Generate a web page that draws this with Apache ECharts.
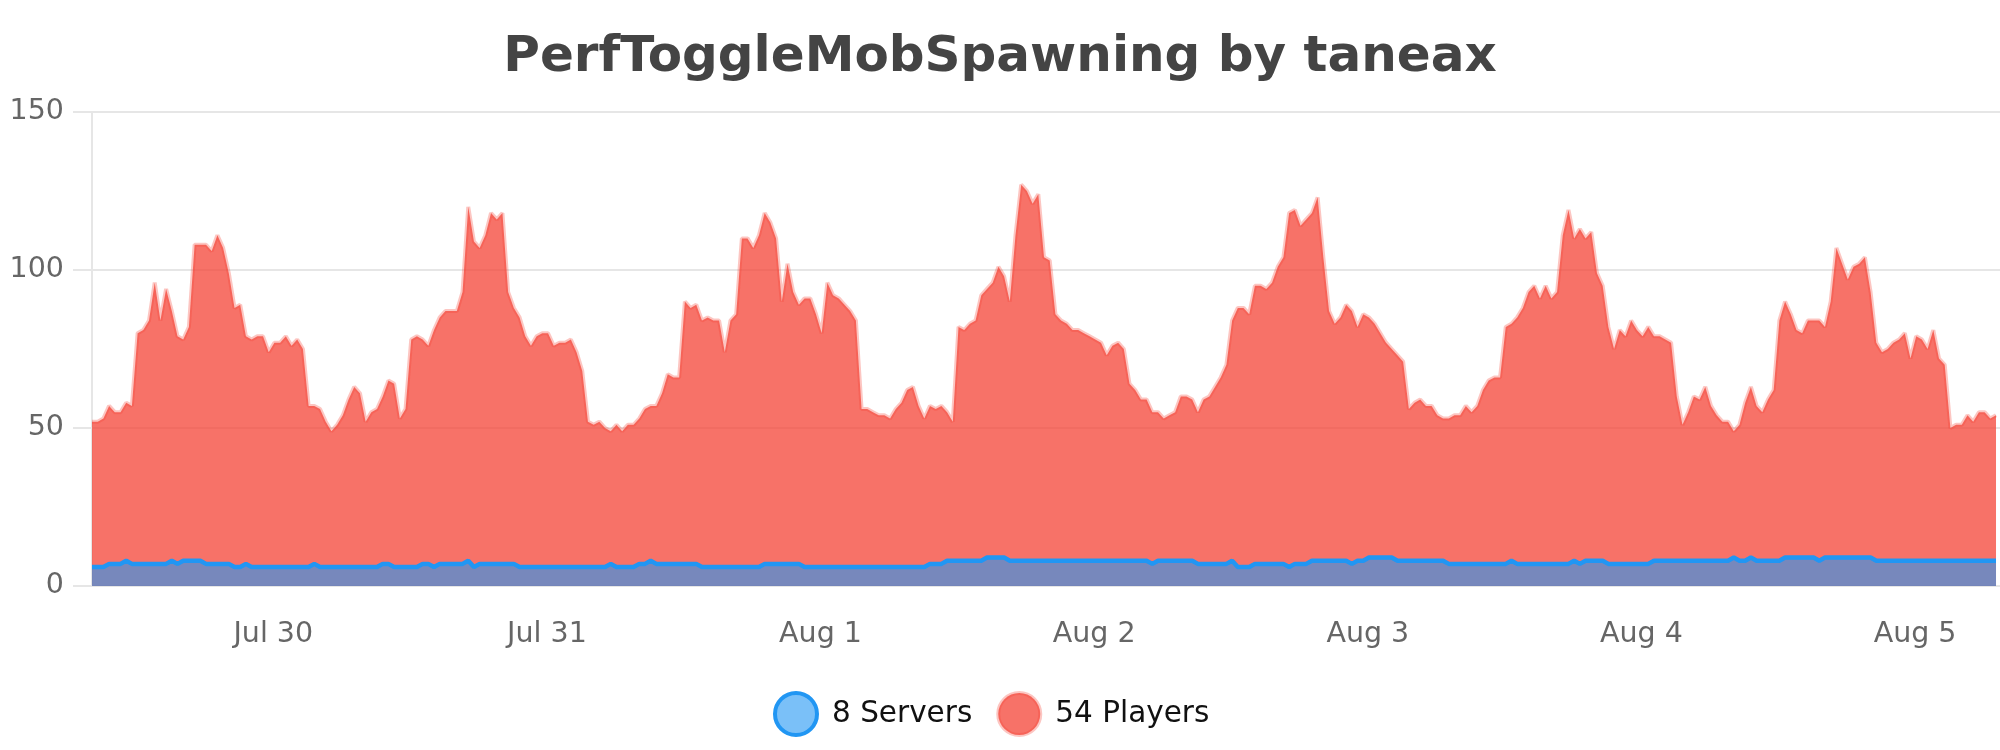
<!DOCTYPE html>
<html>
<head>
    <meta charset="utf-8">
    <title>PerfToggleMobSpawning by taneax</title>
    <script src="https://cdn.jsdelivr.net/npm/echarts@6/dist/echarts.min.js"></script>
    <style>
        html, body { margin: 0; padding: 0; background: #fff; }
    </style>
</head>
<body>
    <div id="main" style="width: 2000px;height:750px;"></div>
    <script type="text/javascript">
        // half-hour samples, first one at Jul 29 08:06
        var startTime = new Date(2021, 6, 29, 8, 6).getTime();
        var stepMs = 30 * 60 * 1000;

        var players = [
            52,52,53,57,55,55,58,57,80,81,
            84,96,84,94,87,79,78,82,108,108,
            108,106,111,107,99,88,89,79,78,79,
            79,74,77,77,79,76,78,75,57,57,
            56,52,49,51,54,59,63,61,52,55,
            56,60,65,64,53,56,78,79,78,76,
            81,85,87,87,87,93,120,109,107,111,
            118,116,118,93,88,85,79,76,79,80,
            80,76,77,77,78,74,68,52,51,52,
            50,49,51,49,51,51,53,56,57,57,
            61,67,66,66,90,88,89,84,85,84,
            84,74,84,86,110,110,107,111,118,115,
            110,90,102,93,89,91,91,86,80,96,
            92,91,89,87,84,56,56,55,54,54,
            53,56,58,62,63,57,53,57,56,57,
            55,52,82,81,83,84,92,94,96,101,
            98,90,111,127,125,121,124,104,103,86,
            84,83,81,81,80,79,78,77,73,76,
            77,75,64,62,59,59,55,55,53,54,
            55,60,60,59,55,59,60,63,66,70,
            84,88,88,86,95,95,94,96,101,104,
            118,119,114,116,118,123,104,87,83,85,
            89,87,82,86,85,83,80,77,75,73,
            71,56,58,59,57,57,54,53,53,54,
            54,57,55,57,62,65,66,66,82,83,
            85,88,93,95,91,95,91,93,111,119,
            110,113,110,112,99,95,82,75,81,79,
            84,81,79,82,79,79,78,77,60,51,
            55,60,59,63,57,54,52,52,49,51,
            58,63,57,55,59,62,84,90,86,81,
            80,84,84,84,82,90,107,102,97,101,
            102,104,93,77,74,75,77,78,80,72,
            79,78,75,81,72,70,50,51,51,54,
            52,55,55,53,54
        ];

        var servers = [
            6,6,6,7,7,7,8,7,7,7,
            7,7,7,7,8,7,8,8,8,8,
            7,7,7,7,7,6,6,7,6,6,
            6,6,6,6,6,6,6,6,6,7,
            6,6,6,6,6,6,6,6,6,6,
            6,7,7,6,6,6,6,6,7,7,
            6,7,7,7,7,7,8,6,7,7,
            7,7,7,7,7,6,6,6,6,6,
            6,6,6,6,6,6,6,6,6,6,
            6,7,6,6,6,6,7,7,8,7,
            7,7,7,7,7,7,7,6,6,6,
            6,6,6,6,6,6,6,6,7,7,
            7,7,7,7,7,6,6,6,6,6,
            6,6,6,6,6,6,6,6,6,6,
            6,6,6,6,6,6,6,7,7,7,
            8,8,8,8,8,8,8,9,9,9,
            9,8,8,8,8,8,8,8,8,8,
            8,8,8,8,8,8,8,8,8,8,
            8,8,8,8,8,8,7,8,8,8,
            8,8,8,8,7,7,7,7,7,7,
            8,6,6,6,7,7,7,7,7,7,
            6,7,7,7,8,8,8,8,8,8,
            8,7,8,8,9,9,9,9,9,8,
            8,8,8,8,8,8,8,8,7,7,
            7,7,7,7,7,7,7,7,7,8,
            7,7,7,7,7,7,7,7,7,7,
            8,7,8,8,8,8,7,7,7,7,
            7,7,7,7,8,8,8,8,8,8,
            8,8,8,8,8,8,8,8,9,8,
            8,9,8,8,8,8,8,9,9,9,
            9,9,9,8,9,9,9,9,9,9,
            9,9,9,8,8,8,8,8,8,8,
            8,8,8,8,8,8,8,8,8,8,
            8,8,8,8,8
        ];

        var dayTicks = [[2021,6,30],[2021,6,31],[2021,7,1],[2021,7,2],[2021,7,3],[2021,7,4],[2021,7,5]];
        var monthNames = ['Jan','Feb','Mar','Apr','May','Jun','Jul','Aug','Sep','Oct','Nov','Dec'];
        var legendNames = ['8 Servers', '54 Players'];

        var playerData = [], serverData = [];
        for (var i = 0; i < players.length; i++) {
            playerData.push([startTime + i * stepMs, players[i]]);
            serverData.push([startTime + i * stepMs, servers[i]]);
        }
        var tickValues = dayTicks.map(function (d) { return new Date(d[0], d[1], d[2]).getTime(); });

        var font = 'DejaVu Sans';
        var gridColor = '#e6e6e6';

        var myChart = echarts.init(document.getElementById('main'));
        var option = {
            animation: false,
            title: {
                text: 'PerfToggleMobSpawning by taneax',
                left: 'center',
                top: 28,
                textStyle: { fontFamily: font, fontSize: 50, fontWeight: 'bold', color: '#444' }
            },
            legend: {
                left: 768,
                top: 686,
                itemWidth: 62,
                itemHeight: 42,
                itemGap: 24,
                symbolKeepAspect: true,
                icon: 'circle',
                textStyle: { fontFamily: font, fontSize: 29.5, color: '#111' },
                data: [
                    { name: legendNames[0], itemStyle: { color: 'rgba(33,150,243,0.6)', borderColor: '#2196f3', borderWidth: 4 } },
                    { name: legendNames[1], itemStyle: { color: 'rgba(244,67,54,0.75)', borderColor: 'rgba(244,67,54,0.3)', borderWidth: 4 } }
                ]
            },
            grid: { left: 92, right: 0, top: 112, bottom: 164, containLabel: false },
            xAxis: {
                type: 'value',
                min: startTime,
                max: startTime + 334.7 * stepMs,
                axisLine: { show: false },
                axisTick: { show: false },
                splitLine: { show: false },
                axisLabel: {
                    customValues: tickValues,
                    fontFamily: font,
                    fontSize: 28.5,
                    color: '#666',
                    margin: 34,
                    formatter: function (v) {
                        var d = new Date(v);
                        return monthNames[d.getMonth()] + ' ' + d.getDate();
                    }
                }
            },
            yAxis: {
                type: 'value',
                min: 0,
                max: 150,
                interval: 50,
                axisLine: { show: true, lineStyle: { color: gridColor, width: 2 } },
                axisTick: { show: true, length: 19, lineStyle: { color: gridColor, width: 2 } },
                splitLine: { lineStyle: { color: gridColor, width: 2 } },
                axisLabel: { fontFamily: font, fontSize: 28.5, color: '#666', margin: 28 }
            },
            series: [
                {
                    name: legendNames[1],
                    type: 'line',
                    data: playerData,
                    showSymbol: false,
                    lineStyle: { color: 'rgba(244,67,54,0.3)', width: 4 },
                    itemStyle: { color: 'rgba(244,67,54,0.75)' },
                    areaStyle: { color: 'rgba(244,67,54,0.75)', opacity: 1 }
                },
                {
                    name: legendNames[0],
                    type: 'line',
                    data: serverData,
                    showSymbol: false,
                    lineStyle: { color: '#2196f3', width: 4.5 },
                    itemStyle: { color: 'rgba(33,150,243,0.6)' },
                    areaStyle: { color: 'rgba(33,150,243,0.6)', opacity: 1 }
                }
            ]
        };
        myChart.setOption(option);
    </script>
</body>
</html>
